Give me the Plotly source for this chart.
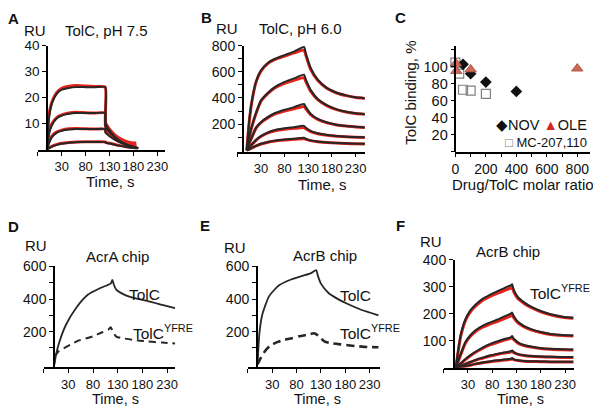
import plotly.graph_objects as go

# The page places the figure 8 px from the top-left corner (default body margin),
# so the figure is sized to fill the rest of the 601x409 window.
OFF = 8
W, H = 601 - OFF, 409 - OFF
FONT = "Liberation Sans, Arial, sans-serif"
FIT = "#262626"
RED = "#e3241c"

# ---------------- Panel A: TolC, pH 7.5 ----------------
tA = [0, 2, 5, 10, 20, 30, 45, 60, 80, 100, 121, 121.5, 130, 140, 150, 165, 180, 190]
A_fit1 = [0, 9, 14, 18, 21.5, 23, 23.7, 24, 24, 24, 24, 10, 7.2, 5, 3.4, 1.9, 0.9, 0.5]
A_fit2 = [0, 4, 7, 9.5, 12, 13, 13.7, 14, 14, 14, 14, 8.5, 6.5, 4.8, 3.3, 1.9, 1.0, 0.5]
A_fit3 = [0, 1.5, 3, 4.8, 6.4, 7.1, 7.6, 7.8, 7.8, 7.8, 7.8, 6.5, 5.0, 3.8, 2.8, 1.6, 0.8, 0.4]
A_fit4 = [0, 0.2, 0.5, 1.0, 1.7, 2.1, 2.5, 2.7, 2.8, 2.8, 2.8, 2.6, 2.2, 1.8, 1.4, 0.9, 0.5, 0.3]
tA_data = [0, 2, 5, 10, 20, 30, 45, 60, 80, 100, 121, 121.5, 130, 140, 150, 165, 180, 186]
A_data1 = [0, 12, 15, 18.5, 22, 23.5, 24.3, 24.6, 24.4, 24.2, 24, 10.5, 7.8, 5.8, 4.3, 3.0, 2.4, 2.4]
A_data2 = [0, 6, 8, 10, 12.3, 13.3, 14, 14.3, 14.1, 14, 14, 9, 7, 5.2, 3.8, 2.4, 1.6, 1.4]
A_data3 = [0, 2.5, 3.8, 5.2, 6.7, 7.4, 7.9, 8.0, 7.9, 7.8, 7.8, 6.8, 5.4, 4.1, 3.1, 2.0, 1.3, 1.2]
A_data4 = [0, 0.4, 0.7, 1.2, 1.9, 2.3, 2.6, 2.8, 2.9, 2.9, 2.9, 2.7, 2.3, 1.9, 1.5, 1.0, 0.7, 0.6]

# ---------------- Panel B: TolC, pH 6.0 ----------------
tB = [0, 5, 10, 20, 30, 45, 60, 80, 100, 121, 125, 135, 150, 170, 190, 210, 230, 250]
B_fit1 = [0, 220, 360, 530, 610, 670, 700, 728, 755, 790, 740, 630, 540, 475, 440, 420, 405, 398]
B_fit2 = [0, 100, 175, 290, 380, 440, 485, 523, 550, 578, 540, 462, 392, 343, 313, 295, 283, 276]
B_fit3 = [0, 50, 95, 175, 215, 255, 285, 310, 330, 355, 330, 280, 240, 212, 196, 186, 180, 175]
B_fit4 = [0, 22, 42, 80, 108, 137, 155, 168, 177, 187, 172, 148, 130, 117, 109, 104, 101, 99]
B_fit5 = [0, 8, 17, 35, 50, 64, 74, 82, 89, 96, 88, 76, 67, 60, 56, 53, 51, 50]
B_data1 = [0, 210, 355, 525, 605, 665, 695, 720, 745, 765, 725, 620, 535, 472, 438, 418, 404, 397]
B_data2 = [0, 95, 170, 285, 375, 435, 478, 512, 535, 555, 525, 452, 387, 340, 311, 293, 282, 275]
B_data3 = [0, 48, 92, 172, 212, 250, 278, 300, 318, 335, 318, 272, 236, 210, 194, 185, 179, 174]
B_data4 = [0, 20, 40, 78, 105, 133, 150, 161, 168, 173, 165, 143, 127, 115, 107, 103, 100, 98]
B_data5 = [0, 7, 16, 33, 48, 62, 71, 78, 84, 88, 84, 74, 66, 59, 55, 52, 50, 49]

# ---------------- Panel C: drug effect ----------------
nov_x = [50, 100, 200, 400]
nov_y = [103, 92, 82, 71]
ole_x = [4, 6, 100, 800]
ole_y = [104, 95, 97, 98]
mc_x = [0, 25, 50, 100, 200]
mc_y = [105, 92, 73, 72, 68]

# ---------------- Panel D: AcrA chip ----------------
tD1 = [2, 5, 12, 25, 45, 70, 95, 116, 119, 122, 127, 140, 155, 175, 195, 220, 246]
D_tolc = [0, 57, 138, 241, 343, 428, 468, 497, 518, 490, 458, 432, 414, 398, 385, 365, 345]
tD2 = [3, 10, 20, 35, 50, 65, 80, 100, 112, 116, 120, 127, 140, 160, 190, 220, 246]
D_yfre = [50, 78, 97, 122, 145, 158, 172, 198, 215, 228, 200, 170, 160, 150, 140, 133, 128]

# ---------------- Panel E: AcrB chip ----------------
tE1 = [0, 2, 4, 10, 24, 44, 70, 92, 110, 120, 124, 130, 146, 165, 185, 210, 230, 248]
E_tolc = [0, 120, 200, 310, 420, 485, 522, 543, 560, 578, 540, 495, 436, 400, 370, 338, 318, 300]
tE2 = [0, 6, 15, 25, 40, 55, 70, 85, 105, 115, 120, 128, 137, 150, 170, 200, 225, 248]
E_yfre = [0, 36, 80, 112, 136, 150, 159, 172, 183, 190, 185, 165, 140, 130, 122, 112, 106, 104]

# ---------------- Panel F: AcrB chip, TolC YFRE ----------------
tF = [5, 10, 15, 25, 35, 45, 60, 75, 90, 105, 118, 121, 124, 133, 145, 160, 180, 200, 225, 247]
F_fit1 = [0, 65, 120, 180, 212, 232, 255, 270, 283, 295, 305, 309, 290, 261, 243, 226, 210, 198, 189, 185]
F_fit2 = [0, 25, 50, 95, 120, 138, 155, 167, 178, 190, 200, 204, 192, 170, 155, 143, 132, 125, 121, 119]
F_fit3 = [0, 8, 16, 32, 46, 58, 74, 87, 97, 106, 112, 117, 108, 94, 84, 78, 72, 70, 68, 67]
F_fit4 = [0, 3, 7, 14, 21, 28, 37, 45, 51, 56, 61, 64, 58, 50, 46, 43, 41, 40, 39, 39]
F_fit5 = [0, 1, 3, 6, 10, 14, 19, 23, 27, 30, 33, 35, 31, 27, 25, 24, 23, 22, 22, 22]
F_data1 = [0, 60, 115, 175, 207, 227, 249, 263, 275, 286, 295, 298, 283, 256, 239, 223, 207, 196, 187, 183]
F_data2 = [0, 23, 47, 91, 116, 133, 150, 161, 171, 182, 192, 196, 186, 166, 152, 140, 130, 123, 119, 117]
F_data3 = [0, 7, 15, 30, 44, 56, 71, 84, 93, 102, 108, 112, 105, 91, 82, 76, 71, 68, 66, 65]
F_data4 = [0, 3, 6, 13, 20, 27, 35, 43, 49, 54, 58, 61, 56, 49, 45, 42, 40, 39, 38, 38]
F_data5 = [0, 1, 3, 5, 9, 13, 18, 22, 25, 28, 31, 33, 30, 26, 24, 23, 22, 21, 21, 21]

# ---------------- tick labels (major = labelled, minor = unlabelled) ----------------
time_ticks = [30, 80, 130, 180, 230]
time_minor = [-20]
A_yticks = [10, 20, 30, 40]
A_yminor = []
B_yticks = [200, 400, 600, 800]
B_yminor = [100, 300, 500, 700]
C_xticks = [0, 200, 400, 600, 800]
C_xminor = [100, 300, 500, 700]
C_yticks = [20, 40, 60, 80, 100]
C_yminor = [0, 120]
DE_yticks = [200, 400, 600]
DE_yminor = [100, 300, 500]
F_yticks = [100, 200, 300, 400]
F_yminor = []


def fx(p):
    return (p - OFF) / W


def fy(p):
    return 1 - (p - OFF) / H


fig = go.Figure()


def line(k, x, y, color, width, dash="solid", smooth=0.8):
    fig.add_trace(go.Scatter(
        x=x, y=y, mode="lines", xaxis="x" if k == 1 else f"x{k}", yaxis="y" if k == 1 else f"y{k}",
        line=dict(color=color, width=width, dash=dash, shape="spline", smoothing=smooth),
        showlegend=False, hoverinfo="skip"))


# A
for d in [A_data1, A_data2, A_data3, A_data4]:
    line(1, tA_data, d, RED, 3.0, smooth=0.5)
for f in [A_fit1, A_fit2, A_fit3, A_fit4]:
    line(1, tA, f, FIT, 2, smooth=0.5)
# B
for d in [B_data1, B_data2, B_data3, B_data4, B_data5]:
    line(2, tB, d, RED, 3.0, smooth=0.6)
for f in [B_fit1, B_fit2, B_fit3, B_fit4, B_fit5]:
    line(2, tB, f, FIT, 2, smooth=0.6)
# C
fig.add_trace(go.Scatter(x=mc_x, y=mc_y, mode="markers", xaxis="x3", yaxis="y3", cliponaxis=False,
                         marker=dict(symbol="square-open", size=9, color="#808080", line=dict(width=1.2)),
                         showlegend=False, hoverinfo="skip"))
fig.add_trace(go.Scatter(x=nov_x, y=nov_y, mode="markers", xaxis="x3", yaxis="y3", cliponaxis=False,
                         marker=dict(symbol="diamond", size=9, color="#111111"),
                         showlegend=False, hoverinfo="skip"))
fig.add_trace(go.Scatter(x=ole_x, y=ole_y, mode="markers", xaxis="x3", yaxis="y3", cliponaxis=False,
                         marker=dict(symbol="triangle-up", size=10, color="#cc6a55",
                                     line=dict(color="#a04a3a", width=0.8)),
                         showlegend=False, hoverinfo="skip"))
# D
line(4, tD1, D_tolc, FIT, 1.8, smooth=0.6)
line(4, tD2, D_yfre, FIT, 2.0, dash="7px,5px", smooth=0.6)
# E
line(5, tE1, E_tolc, FIT, 1.8, smooth=0.6)
line(5, tE2, E_yfre, FIT, 2.6, dash="8px,5px", smooth=0.6)
# F
for d in [F_data1, F_data2, F_data3, F_data4, F_data5]:
    line(6, tF, d, RED, 3.0, smooth=0.6)
for f in [F_fit1, F_fit2, F_fit3, F_fit4, F_fit5]:
    line(6, tF, f, FIT, 2, smooth=0.6)

common = dict(showline=True, linecolor="black", linewidth=1.5, ticks="outside", ticklen=4,
              tickwidth=1.2, tickcolor="black", showgrid=False, zeroline=False, fixedrange=True,
              tickmode="array", tickangle=0)


def minor(vals):
    return dict(tickmode="array", tickvals=vals, ticks="outside", ticklen=4, tickwidth=1.2,
                tickcolor="black", showgrid=False)


# (x-domain px, x-range, y-domain px (bottom, top), y-range, y-axis position px, ticks..., y font size)
panels = [
    ((34.1, 163.3), [-20, 247], (144.5, 38.3), [-0.2, 40], 43.3,
     time_ticks, time_minor, A_yticks, A_yminor, 13.5),
    ((236, 365), [-20, 249.6], (146.5, 38.3), [-11, 800], 241.5,
     time_ticks, time_minor, B_yticks, B_yminor, 14),
    ((456.7, 593), [0, 884], (146.3, 38.3), [0, 125], 456.7,
     C_xticks, C_xminor, C_yticks, C_yminor, 14.5),
    ((40, 173.3), [-20, 246.6], (366.5, 263), [-19, 604], 50.5,
     time_ticks, time_minor, DE_yticks, DE_yminor, 14),
    ((246.7, 380), [-20, 250.4], (366.5, 263), [-19, 604], 255.7,
     time_ticks, time_minor, DE_yticks, DE_yminor, 14),
    ((444.8, 577), [-20, 249], (366.8, 256.7), [0, 400], 455,
     time_ticks, time_minor, F_yticks, F_yminor, 14),
]

layout = dict(width=W, height=H, margin=dict(l=0, r=0, t=0, b=0), paper_bgcolor="white",
              plot_bgcolor="rgba(0,0,0,0)", showlegend=False)
for i, (xd, xr, yd, yr, ypos, xt, xm, yt, ym, yfs) in enumerate(panels, start=1):
    sfx = "" if i == 1 else str(i)
    xfs = 14 if i == 3 else 13
    layout["xaxis" + sfx] = dict(common, domain=[fx(xd[0]), fx(xd[1])], range=xr,
                                 anchor="y" + sfx, tickvals=xt, ticktext=[str(v) for v in xt],
                                 minor=minor(xm),
                                 tickfont=dict(family=FONT, size=xfs, color="#111111"))
    layout["yaxis" + sfx] = dict(common, domain=[fy(yd[0]), fy(yd[1])], range=yr,
                                 anchor="free", position=fx(ypos), tickvals=yt,
                                 ticktext=[str(v) for v in yt], minor=minor(ym),
                                 tickfont=dict(family=FONT, size=yfs, color="#111111"))
fig.update_layout(**layout)


def ann(text, x, y, size=15, bold=False, xanchor="center", angle=0):
    fig.add_annotation(text=f"<b>{text}</b>" if bold else text, x=fx(x), y=fy(y), xref="paper",
                       yref="paper", showarrow=False, xanchor=xanchor, yanchor="middle",
                       textangle=angle, font=dict(family=FONT, size=size, color="#111111"))


# panel letters
for lab, x, y in [("A", 9.5, 10.5), ("B", 205, 10), ("C", 401, 10), ("D", 9.5, 223), ("E", 203, 222),
                  ("F", 401, 222)]:
    ann(lab, x, y, size=15, bold=True)

# A
ann("RU", 31, 23)
ann("TolC, pH 7.5", 104, 23)
ann("Time, s", 108, 177)
# B
ann("RU", 226, 21)
ann("TolC, pH 6.0", 300, 21)
ann("Time, s", 322, 180)
# C
ann("TolC binding, %", 411, 86, angle=-90)
ann("Drug/TolC molar ratio", 525, 180)
ann("<span style='color:#111111'>◆</span>NOV <span style='color:#d42a20'>▲</span>OLE", 592, 119,
    size=14.5, xanchor="right")
ann("<span style='color:#777777'>□</span> MC-207,110", 592, 137, size=13, xanchor="right")
# D
ann("RU", 32, 242)
ann("AcrA chip", 115, 253)
ann("TolC", 142, 292, size=15.5)
ann("TolC<sup>YFRE</sup>", 128, 330, size=15.5, xanchor="left")
ann("Time, s", 113, 398.5, size=14.5)
# E
ann("RU", 234, 244)
ann("AcrB chip", 325, 252)
ann("TolC", 356, 293, size=15.5)
ann("TolC<sup>YFRE</sup>", 338, 330, size=15.5, xanchor="left")
ann("Time, s", 317, 398.5, size=14.5)
# F
ann("RU", 432, 238)
ann("AcrB chip", 510, 248)
ann("TolC<sup>YFRE</sup>", 530, 290, size=15.5, xanchor="left")
ann("Time, s", 523, 398.5, size=14.5)

fig.write_html("out.html")
